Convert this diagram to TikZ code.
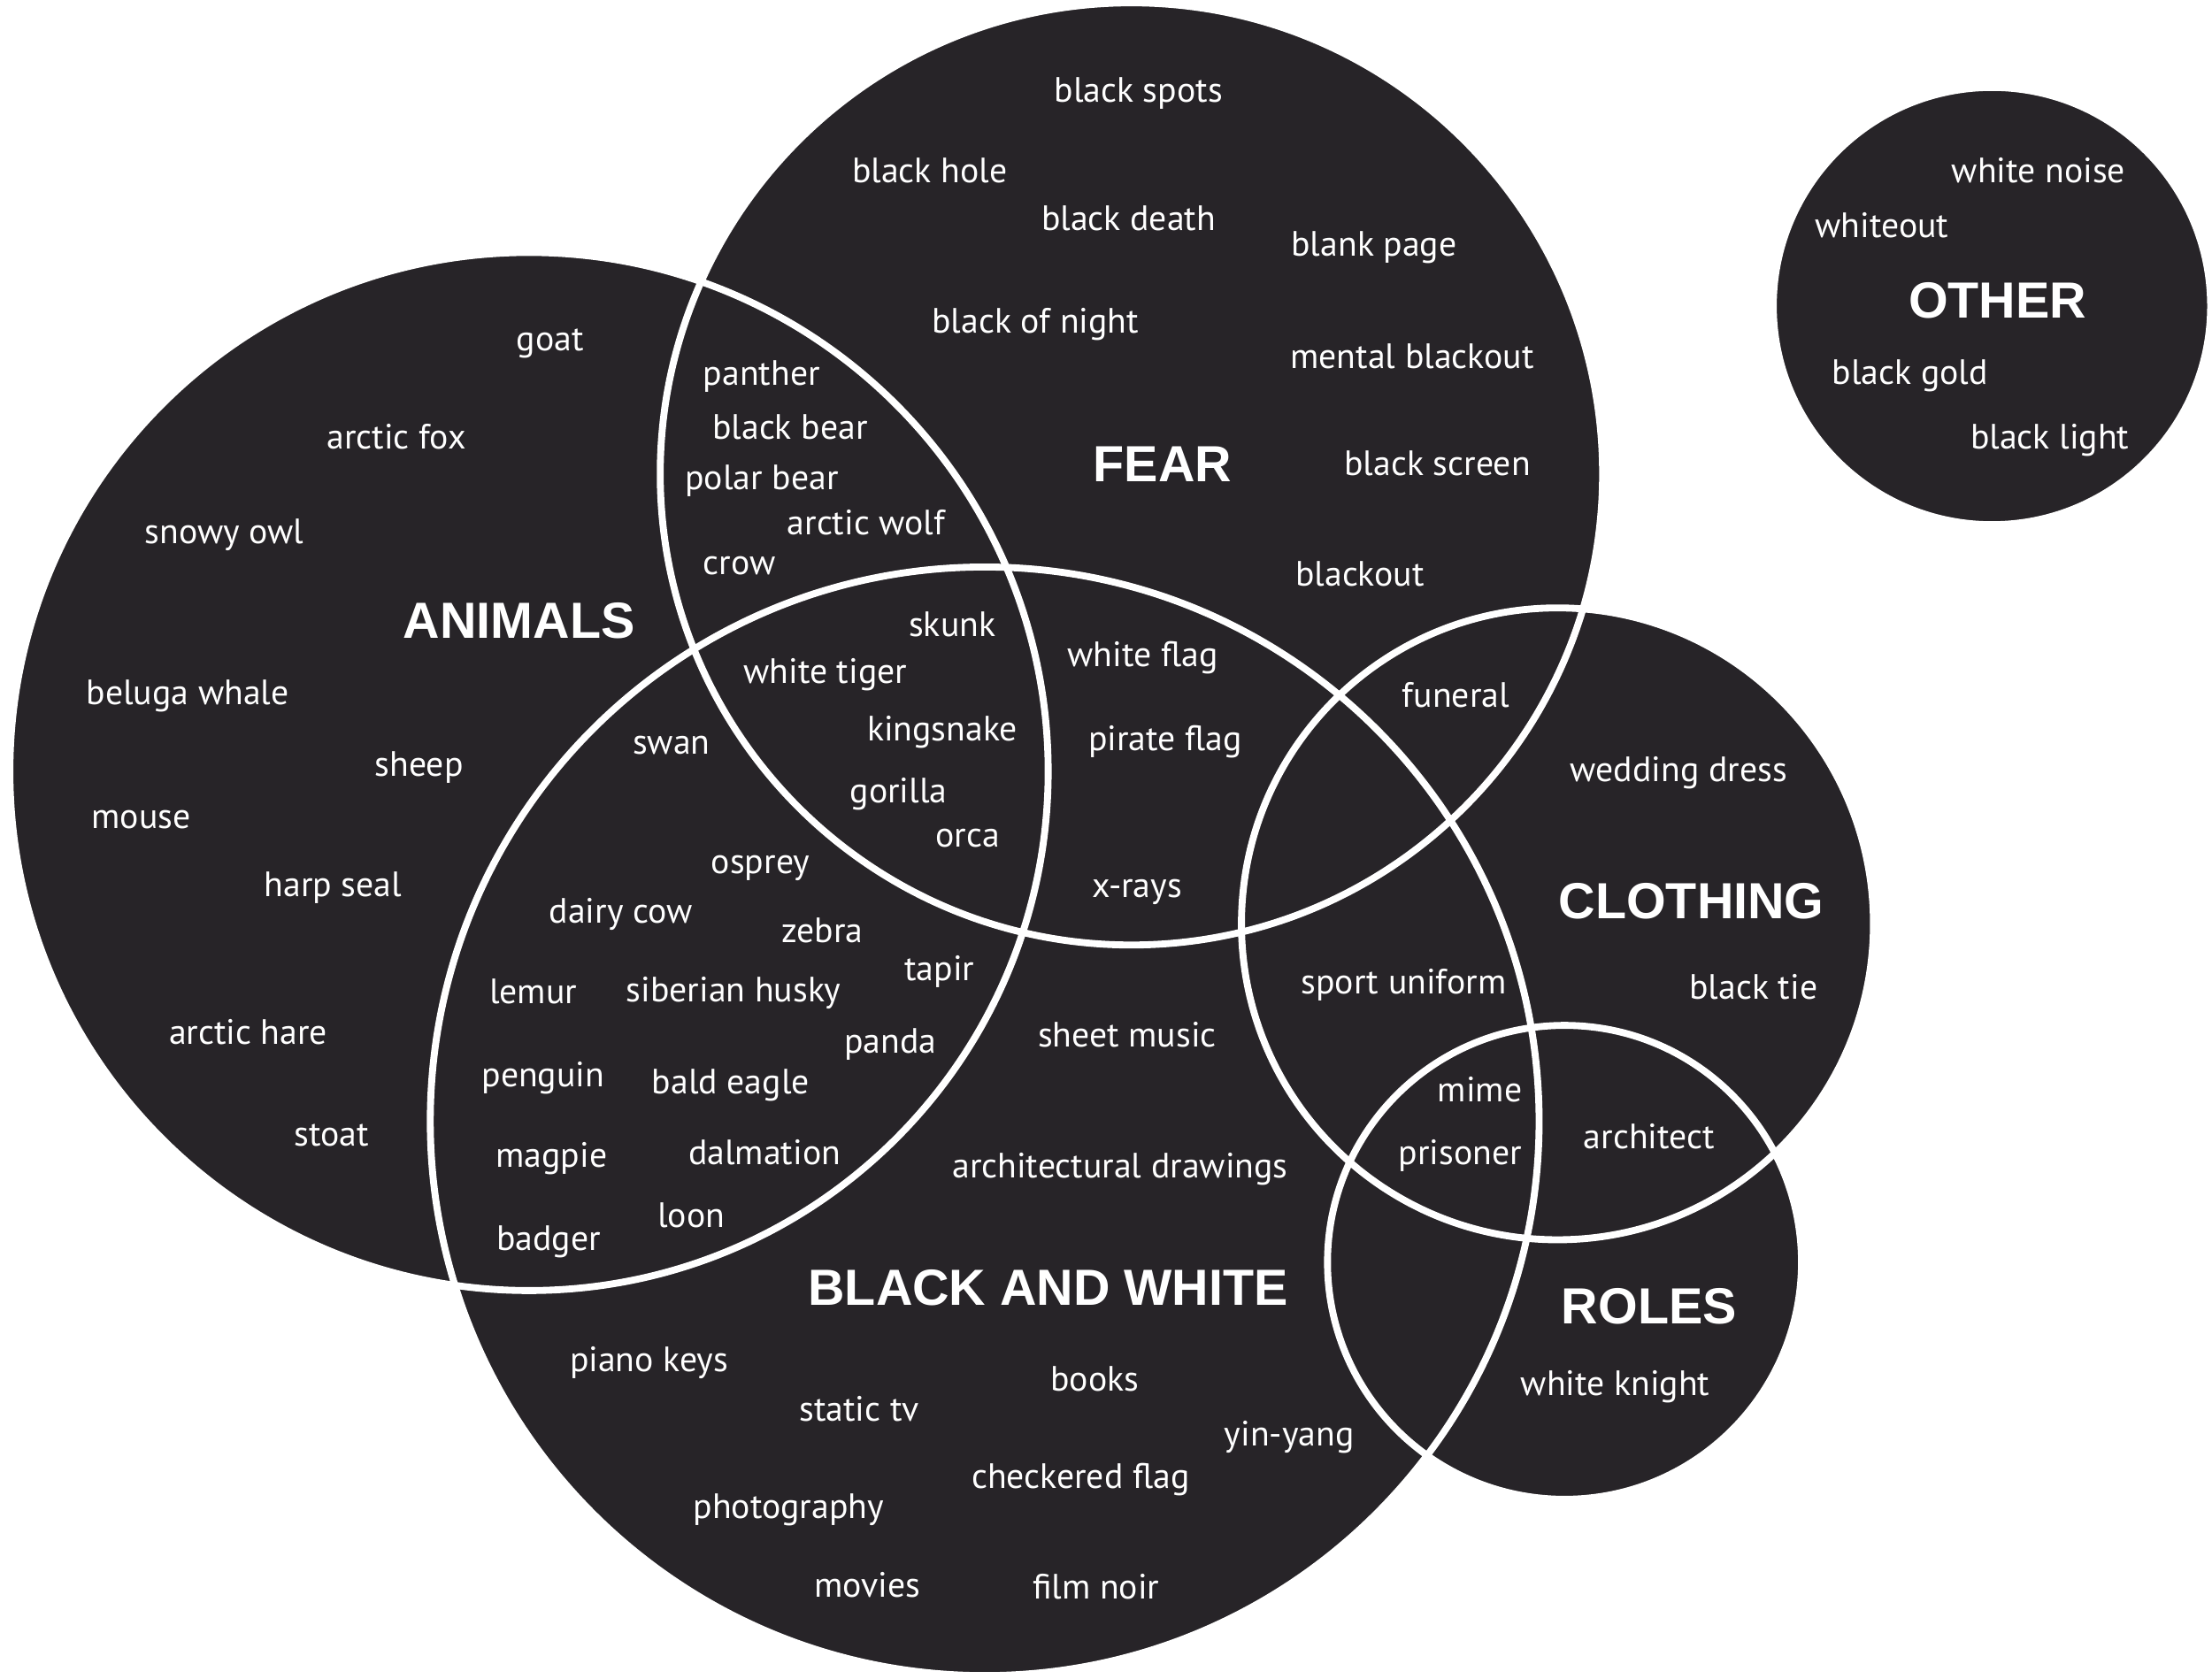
\documentclass[tikz,border=0pt]{standalone}
\usepackage{fontspec}
\setmainfont{PT Sans}
\newfontfamily\titlefont{Liberation Sans}
\usetikzlibrary{positioning}

\definecolor{vennfill}{RGB}{39,36,40}

\begin{document}
\begin{tikzpicture}[
  x=0.02cm, y=-0.02cm,
  setfill/.style={fill=vennfill},
  setline/.style={draw=white, line width=2.8pt},
  item/.style={text=white, inner sep=0pt, text height=0.7em, text depth=0.2em,
    yshift=-0.06cm, font=\fontsize{14.2}{16}\selectfont},
  title/.style={text=white, inner sep=0pt,
    font=\titlefont\bfseries\fontsize{20.5}{24}\selectfont}
]
  \useasboundingbox[fill=white] (0,0) rectangle (1568,1190);

  % sets
  \fill[setfill] (375,547) circle[radius=368];   % animals
  \fill[setfill] (802,336) circle[radius=334];   % fear
  \fill[setfill] (698,795) circle[radius=393];   % black and white
  \fill[setfill] (1104,655) circle[radius=224];  % clothing
  \fill[setfill] (1109,895) circle[radius=168];  % roles
  \fill[setfill] (1412,217) circle[radius=155];  % other

  \draw[setline] (375,547) circle[radius=368];
  \draw[setline] (802,336) circle[radius=334];
  \draw[setline] (698,795) circle[radius=393];
  \draw[setline] (1104,655) circle[radius=224];
  \draw[setline] (1109,895) circle[radius=168];
  \draw[setline] (1412,217) circle[radius=155];

  % titles
  \node[title] (animals) at (368,440) {ANIMALS};
  \node[title] (fear)    at (824,329) {FEAR};
  \node[title] (bw)      at (743,913) {BLACK AND WHITE};
  \node[title] (cloth)   at (1199,639) {CLOTHING};
  \node[title] (roles)   at (1169,926) {ROLES};
  \node[title] (other)   at (1416,213) {OTHER};

  % fear
  \node[item] (spots)   at (807,65)   {black spots};
  \node[item] (hole)    at (659,122)  {black hole};
  \node[item] (death)   at (800,156)  {black death};
  \node[item] (blank)   at (974,174)  {blank page};
  \node[item] (night)   at (734,229)  {black of night};
  \node[item] (mental)  at (1001,254) {mental blackout};
  \node[item] (screen)  at (1019,330) {black screen};
  \node[item] (blackout) at (964,408) {blackout};

  % animals and fear
  \node[item] (panther) at (540,266) {panther};
  \node[item] (bbear)   at (560,304) {black bear};
  \node[item] (pbear)   at (540,340) {polar bear};
  \node[item] (wolf)    at (614,372) {arctic wolf};
  \node[item] (crow)    at (524,400) {crow};

  % animals, fear and black and white
  \node[item] (skunk)   at (675,444) {skunk};
  \node[item] (tiger)   at (585,477) {white tiger};
  \node[item] (king)    at (668,518) {kingsnake};
  \node[item] (gorilla) at (637,562) {gorilla};
  \node[item] (orca)    at (686,593) {orca};

  % fear and black and white
  \node[item] (wflag)   at (810,465) {white flag};
  \node[item] (pflag)   at (826,525) {pirate flag};
  \node[item] (xrays)   at (806,629) {x-rays};

  % fear and clothing
  \node[item] (funeral) at (1032,494) {funeral};

  % animals
  \node[item] (goat)    at (390,241) {goat};
  \node[item] (fox)     at (281,311) {arctic fox};
  \node[item] (owl)     at (159,378) {snowy owl};
  \node[item] (beluga)  at (133,492) {beluga whale};
  \node[item] (sheep)   at (297,543) {sheep};
  \node[item] (mouse)   at (100,580) {mouse};
  \node[item] (seal)    at (236,628) {harp seal};
  \node[item] (hare)    at (176,733) {arctic hare};
  \node[item] (stoat)   at (235,805) {stoat};

  % animals and black and white
  \node[item] (swan)    at (476,527) {swan};
  \node[item] (osprey)  at (539,612) {osprey};
  \node[item] (cow)     at (440,647) {dairy cow};
  \node[item] (zebra)   at (583,661) {zebra};
  \node[item] (tapir)   at (666,688) {tapir};
  \node[item] (lemur)   at (378,704) {lemur};
  \node[item] (husky)   at (520,703) {siberian husky};
  \node[item] (panda)   at (631,739) {panda};
  \node[item] (penguin) at (385,763) {penguin};
  \node[item] (eagle)   at (518,768) {bald eagle};
  \node[item] (magpie)  at (391,820) {magpie};
  \node[item] (dalm)    at (542,818) {dalmation};
  \node[item] (loon)    at (490,863) {loon};
  \node[item] (badger)  at (389,879) {badger};

  % black and white
  \node[item] (sheet)   at (799,735)  {sheet music};
  \node[item] (arch)    at (794,828)  {architectural drawings};
  \node[item] (piano)   at (460,965)  {piano keys};
  \node[item] (books)   at (776,979)  {books};
  \node[item] (static)  at (609,1000) {static tv};
  \node[item] (yinyang) at (914,1018) {yin-yang};
  \node[item] (checker) at (766,1048) {checkered flag};
  \node[item] (photo)   at (559,1069) {photography};
  \node[item] (movies)  at (615,1125) {movies};
  \node[item] (noir)    at (777,1126) {film noir};

  % black and white, clothing, roles
  \node[item] (sport)   at (995,697)  {sport uniform};
  \node[item] (mime)    at (1049,774) {mime};
  \node[item] (prison)  at (1035,818) {prisoner};
  \node[item] (archt)   at (1169,807) {architect};

  % clothing
  \node[item] (wedding) at (1190,547) {wedding dress};
  \node[item] (tie)     at (1243,701) {black tie};

  % roles
  \node[item] (knight)  at (1145,982) {white knight};

  % other
  \node[item] (noise)    at (1445,122) {white noise};
  \node[item] (whiteout) at (1334,161) {whiteout};
  \node[item] (gold)     at (1354,265) {black gold};
  \node[item] (light)    at (1453,311) {black light};
\end{tikzpicture}
\end{document}
